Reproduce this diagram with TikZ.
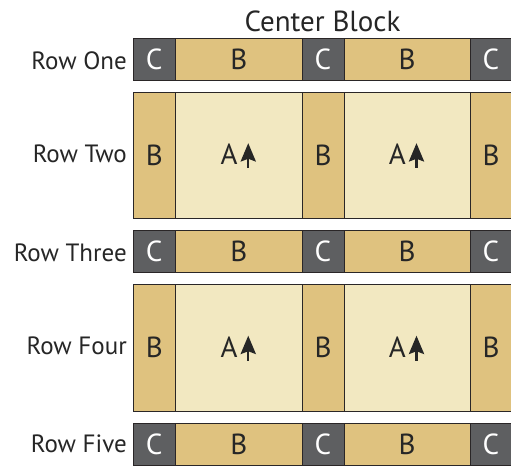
\documentclass[tikz,border=0pt]{standalone}
\usepackage{fontspec}
\setmainfont{PT Sans}
\definecolor{cgray}{HTML}{5E5F61}
\definecolor{btan}{HTML}{DFC27F}
\definecolor{alight}{HTML}{F2E8C1}
\definecolor{edge}{HTML}{2A2627}
\begin{document}
\begin{tikzpicture}[x=1pt,y=1pt,
  blk/.style={draw=edge,line width=0.9pt,inner sep=0pt,outer sep=0pt,font=\fontsize{29}{29}\selectfont},
  cblk/.style={blk,fill=cgray,text=white},
  bblk/.style={blk,fill=btan,text=black!85},
  ablk/.style={blk,fill=alight,text=black!85},
  lab/.style={anchor=base east,inner sep=0pt,font=\fontsize{25}{25}\selectfont,text=black!85},
  ttl/.style={anchor=base,inner sep=0pt,font=\fontsize{29}{29}\selectfont,text=black!85},
  arr/.style={fill=black!85,draw=none}]
\useasboundingbox (0,0) rectangle (511,466);
% title
\node[ttl] (title) at (322.5,434.3) {Center Block};
% Row One (C B C B C)
\node[cblk,minimum width=42.5pt,minimum height=42pt] (r1c1) at (154.25,407) {C};
\node[bblk,minimum width=126.5pt,minimum height=42pt] (r1c2) at (238.75,407) {B};
\node[cblk,minimum width=42pt,minimum height=42pt] (r1c3) at (323,407) {C};
\node[bblk,minimum width=126pt,minimum height=42pt] (r1c4) at (407,407) {B};
\node[cblk,minimum width=42pt,minimum height=42pt] (r1c5) at (491,407) {C};
% Row Two (B A B A B)
\node[bblk,minimum width=42.5pt,minimum height=126.5pt] (r2c1) at (154.25,310.75) {B};
\node[ablk,minimum width=126.5pt,minimum height=126.5pt] (r2c2) at (238.75,310.75) {};
\node[bblk,minimum width=42pt,minimum height=126.5pt] (r2c3) at (323,310.75) {B};
\node[ablk,minimum width=126pt,minimum height=126.5pt] (r2c4) at (407,310.75) {};
\node[bblk,minimum width=42pt,minimum height=126.5pt] (r2c5) at (491,310.75) {B};
% Row Three
\node[cblk,minimum width=42.5pt,minimum height=42pt] (r3c1) at (154.25,214.5) {C};
\node[bblk,minimum width=126.5pt,minimum height=42pt] (r3c2) at (238.75,214.5) {B};
\node[cblk,minimum width=42pt,minimum height=42pt] (r3c3) at (323,214.5) {C};
\node[bblk,minimum width=126pt,minimum height=42pt] (r3c4) at (407,214.5) {B};
\node[cblk,minimum width=42pt,minimum height=42pt] (r3c5) at (491,214.5) {C};
% Row Four
\node[bblk,minimum width=42.5pt,minimum height=126.5pt] (r4c1) at (154.25,118.25) {B};
\node[ablk,minimum width=126.5pt,minimum height=126.5pt] (r4c2) at (238.75,118.25) {};
\node[bblk,minimum width=42pt,minimum height=126.5pt] (r4c3) at (323,118.25) {B};
\node[ablk,minimum width=126pt,minimum height=126.5pt] (r4c4) at (407,118.25) {};
\node[bblk,minimum width=42pt,minimum height=126.5pt] (r4c5) at (491,118.25) {B};
% Row Five
\node[cblk,minimum width=42.5pt,minimum height=42.5pt] (r5c1) at (154.25,21.75) {C};
\node[bblk,minimum width=126.5pt,minimum height=42.5pt] (r5c2) at (238.75,21.75) {B};
\node[cblk,minimum width=42pt,minimum height=42.5pt] (r5c3) at (323,21.75) {C};
\node[bblk,minimum width=126pt,minimum height=42.5pt] (r5c4) at (407,21.75) {B};
\node[cblk,minimum width=42pt,minimum height=42.5pt] (r5c5) at (491,21.75) {C};
% A labels with arrows
\foreach \n in {r2c2,r2c4,r4c2,r4c4}{
  \node[anchor=base,inner sep=0pt,font=\fontsize{29}{29}\selectfont,text=black!85] (\n A) at ([xshift=-9.75pt,yshift=-9.75pt]\n.center) {A};
  \fill[arr] ([xshift=9.5pt,yshift=12pt]\n.center) -- ([xshift=17.3pt,yshift=-6.5pt]\n.center) -- ([xshift=9.5pt,yshift=-3.5pt]\n.center) -- ([xshift=1.7pt,yshift=-6.5pt]\n.center) -- cycle;
  \fill[arr] ([xshift=8.4pt,yshift=-3pt]\n.center) rectangle ([xshift=10.6pt,yshift=-13pt]\n.center);
}
% row labels
\node[lab] (l1) at (127,396.3) {Row One};
\node[lab] (l2) at (127,303.2) {Row Two};
\node[lab] (l3) at (127,204.5) {Row Three};
\node[lab] (l4) at (127,111.5) {Row Four};
\node[lab] (l5) at (127,13.3) {Row Five};
\end{tikzpicture}
\end{document}
